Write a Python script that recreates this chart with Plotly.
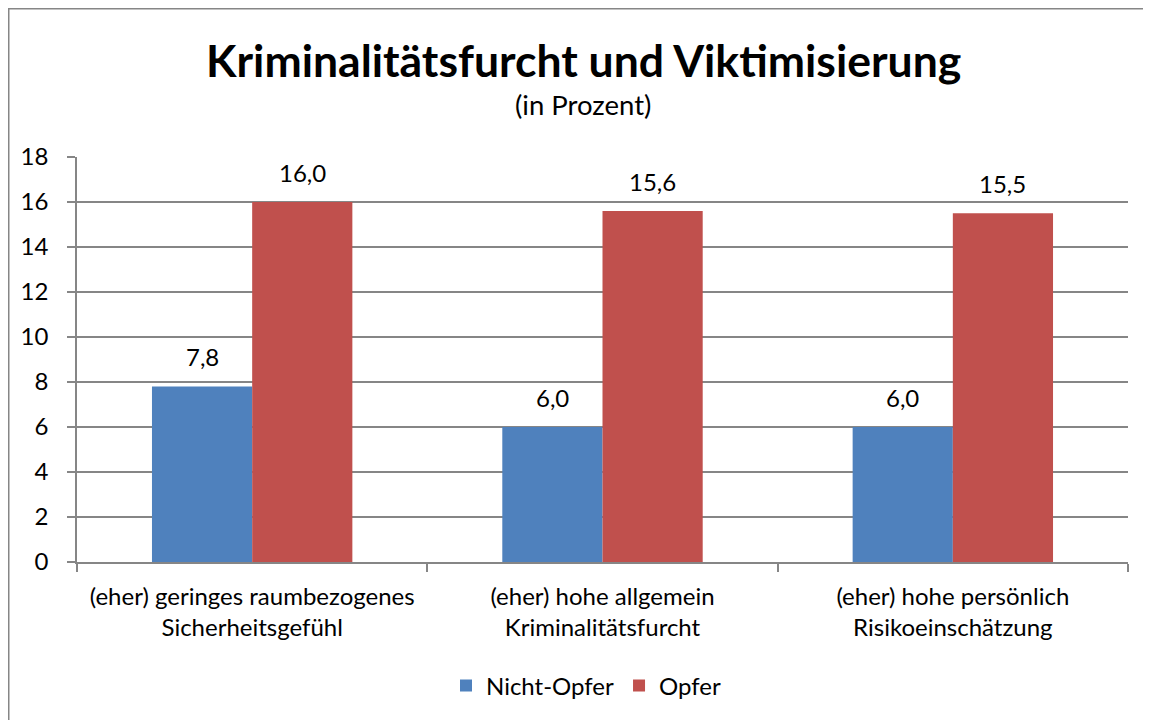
import plotly.graph_objects as go

categories = ["(eher) geringes raumbezogenes<br>Sicherheitsgefühl",
              "(eher) hohe allgemein<br>Kriminalitätsfurcht",
              "(eher) hohe persönlich<br>Risikoeinschätzung"]
nicht_opfer = [7.8, 6.0, 6.0]
opfer = [16.0, 15.6, 15.5]
y_ticks = list(range(0, 19, 2))

FONT = "Lato, Carlito, Calibri, sans-serif"
GRID = "#868686"
FS = 24

# figure size (page has an 8px body margin) and plot area in figure pixels
W, H = 1143, 712
L, T, PW, PH = 69, 149, 1051, 405

def fmt(v):
    return f"{v:.1f}".replace(".", ",")

fig = go.Figure()
fig.add_trace(go.Bar(name="Nicht-Opfer", x=categories, y=nicht_opfer,
                     marker=dict(color="#4F81BD", line=dict(width=0))))
fig.add_trace(go.Bar(name="Opfer", x=categories, y=opfer,
                     marker=dict(color="#C0504D", line=dict(width=0))))

annotations = []
for vals, shift in ((nicht_opfer, -50), (opfer, 50)):
    for c, v in zip(categories, vals):
        annotations.append(dict(x=c, y=v, xref="x", yref="y", text=fmt(v),
                                showarrow=False, xshift=shift, yshift=30,
                                yanchor="middle", font=dict(size=FS, family=FONT)))

annotations += [
    dict(text="<b>Kriminalitätsfurcht und Viktimisierung</b>", xref="paper", yref="paper",
         x=(575 - L) / PW, y=1 + (T - 52) / PH, xanchor="center", yanchor="middle",
         showarrow=False, font=dict(size=44.5, family=FONT)),
    dict(text="(in Prozent)", xref="paper", yref="paper",
         x=(575 - L) / PW, y=1 + (T - 97) / PH, xanchor="center", yanchor="middle",
         showarrow=False, font=dict(size=27.5, family=FONT)),
]

# outer chart border: left and top edges (right/bottom fall outside the window)
bx0 = (0.75 - L) / PW
bx1 = (W + 40 - L) / PW
by0 = -(H + 40 - T - PH) / PH
by1 = 1 + (T - 0.75) / PH

fig.update_layout(
    width=W, height=H,
    margin=dict(l=L, r=W - L - PW, t=T, b=H - T - PH, autoexpand=False),
    paper_bgcolor="white", plot_bgcolor="white",
    barmode="group", bargap=0.428, bargroupgap=0,
    font=dict(family=FONT, size=FS, color="black"),
    showlegend=True,
    legend=dict(orientation="h", x=(578 - L) / PW, xanchor="center",
                y=-(678 - T - PH) / PH, yanchor="middle",
                font=dict(size=FS), traceorder="normal"),
    xaxis=dict(showline=True, linecolor=GRID, linewidth=1.5, ticks="outside",
               tickson="boundaries", ticklen=8, tickcolor=GRID, tickwidth=1.5,
               tickfont=dict(size=FS), showgrid=False, ticklabelstandoff=12,
               automargin=False),
    yaxis=dict(range=[0, 18], tickvals=y_ticks, showline=True, linecolor=GRID,
               linewidth=1.5, ticks="outside", ticklen=8, tickcolor=GRID,
               tickwidth=1.5, showgrid=True, gridcolor=GRID, gridwidth=1.5,
               tickfont=dict(size=FS), zeroline=False, ticklabelstandoff=14,
               automargin=False),
    annotations=annotations,
    shapes=[dict(type="path", xref="paper", yref="paper",
                 path=f"M {bx0},{by0} L {bx0},{by1} L {bx1},{by1}",
                 line=dict(color=GRID, width=1.5), layer="below")],
)

fig.write_html("out.html")
